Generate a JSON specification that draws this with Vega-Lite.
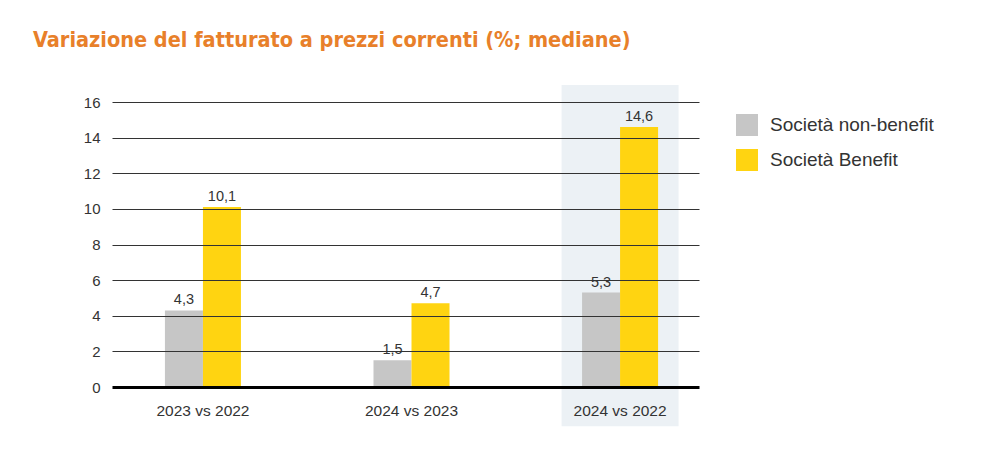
{
  "$schema": "https://vega.github.io/schema/vega-lite/v6.json",
  "width": 587,
  "height": 285,
  "autosize": {"type": "none"},
  "padding": {"left": 112, "top": 102, "right": 285, "bottom": 78},
  "background": "white",
  "title": {
    "text": "Variazione del fatturato a prezzi correnti (%; mediane)",
    "anchor": "start",
    "frame": "group",
    "dx": -79,
    "offset": 34,
    "font": "Liberation Sans Narrow, DejaVu Sans Condensed, Liberation Sans",
    "fontSize": 21.5,
    "fontWeight": "bold",
    "color": "#E8802A"
  },
  "data": {
    "values": [
      {"periodo": "2023 vs 2022", "serie": "Società non-benefit", "valore": 4.3, "etichetta": "4,3"},
      {"periodo": "2023 vs 2022", "serie": "Società Benefit", "valore": 10.1, "etichetta": "10,1"},
      {"periodo": "2024 vs 2023", "serie": "Società non-benefit", "valore": 1.5, "etichetta": "1,5"},
      {"periodo": "2024 vs 2023", "serie": "Società Benefit", "valore": 4.7, "etichetta": "4,7"},
      {"periodo": "2024 vs 2022", "serie": "Società non-benefit", "valore": 5.3, "etichetta": "5,3"},
      {"periodo": "2024 vs 2022", "serie": "Società Benefit", "valore": 14.6, "etichetta": "14,6"}
    ]
  },
  "config": {
    "view": {"stroke": null},
    "font": "Liberation Sans",
    "axis": {"labelFont": "Liberation Sans", "labelColor": "#333333", "labelFontSize": 15}
  },
  "encoding": {
    "x": {
      "field": "periodo",
      "type": "nominal",
      "sort": ["2023 vs 2022", "2024 vs 2023", "2024 vs 2022"],
      "scale": {"paddingInner": 0.6355, "paddingOuter": 0.225, "align": 0.564},
      "axis": {"title": null, "labelAngle": 0, "ticks": false, "domain": false, "labelPadding": 16, "labelFontSize": 15.5, "zindex": 1}
    },
    "y": {
      "type": "quantitative",
      "scale": {"domain": [0, 16], "nice": false},
      "axis": {
        "title": null,
        "values": [0, 2, 4, 6, 8, 10, 12, 14, 16],
        "domain": false,
        "ticks": false,
        "labelPadding": 12,
        "labelFontSize": 15,
        "grid": true,
        "gridColor": {"condition": {"test": "datum.value === 0", "value": "#000000"}, "value": "#333333"},
        "gridWidth": {"condition": {"test": "datum.value === 0", "value": 3}, "value": 1},
        "gridOpacity": 1,
        "zindex": 1
      }
    }
  },
  "layer": [
    {
      "transform": [{"filter": "datum.periodo === '2024 vs 2022' && datum.serie === 'Società Benefit'"}],
      "mark": {"type": "rect", "color": "#ECF1F5", "xOffset": -20.5, "x2Offset": 20.5},
      "encoding": {
        "x": {"field": "periodo", "type": "nominal", "sort": ["2023 vs 2022", "2024 vs 2023", "2024 vs 2022"], "bandPosition": 0},
        "x2": {"field": "periodo", "bandPosition": 1},
        "y": {"datum": 16.95},
        "y2": {"datum": -2.2}
      }
    },
    {
      "mark": {"type": "bar"},
      "encoding": {
        "y": {"field": "valore"},
        "xOffset": {"field": "serie", "type": "nominal", "sort": ["Società non-benefit", "Società Benefit"], "scale": {"paddingInner": 0, "paddingOuter": 0}},
        "color": {
          "field": "serie",
          "type": "nominal",
          "sort": ["Società non-benefit", "Società Benefit"],
          "scale": {"domain": ["Società non-benefit", "Società Benefit"], "range": ["#C6C6C6", "#FFD411"]},
          "legend": {
            "title": null,
            "orient": "none",
            "legendX": 624,
            "legendY": 12,
            "symbolType": "square",
            "symbolSize": 484,
            "symbolStrokeWidth": 0,
            "symbolOpacity": 1,
            "labelFontSize": 19,
            "labelLimit": 300,
            "labelColor": "#333333",
            "labelOffset": 12,
            "rowPadding": 13,
            "padding": 0
          }
        }
      }
    },
    {
      "mark": {"type": "text", "baseline": "bottom", "dy": -3, "fontSize": 14.5, "color": "#333333"},
      "encoding": {
        "y": {"field": "valore"},
        "xOffset": {"field": "serie", "type": "nominal", "sort": ["Società non-benefit", "Società Benefit"]},
        "text": {"field": "etichetta"}
      }
    }
  ]
}
